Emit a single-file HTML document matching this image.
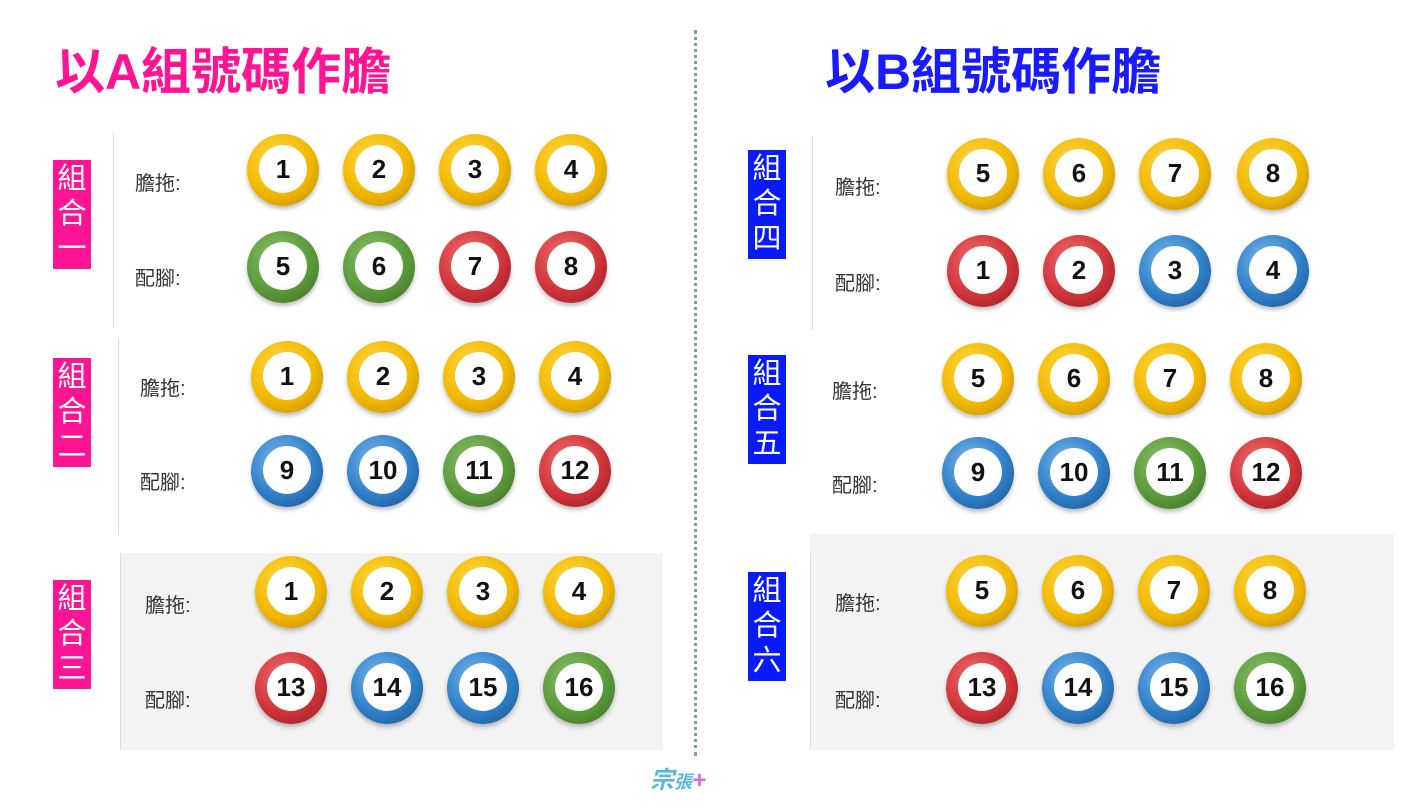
<!DOCTYPE html>
<html><head><meta charset="utf-8"><style>
body{margin:0;width:1425px;height:808px;background:#fff;position:relative;overflow:hidden;font-family:"Liberation Sans","Noto Sans CJK TC",sans-serif}
.abs{position:absolute}
.title{position:absolute;font-weight:bold;font-size:50px;top:32px;letter-spacing:0px;font-family:"Liberation Sans","Noto Sans CJK TC",sans-serif}
.tag{position:absolute;width:38px;color:#fff;font-size:29px;line-height:35px;text-align:center;padding:2px 0}
.lbl{position:absolute;font-size:20px;color:#333}
.ball{position:absolute;width:72px;height:72px;border-radius:50%;margin:-36px 0 0 -36px;box-shadow:0 3px 4px rgba(0,0,0,.25)}
.ball i{position:absolute;left:12px;top:11px;width:48px;height:48px;border-radius:50%;background:radial-gradient(circle at 45% 40%,#fff 60%,#e6e6e6);font-style:normal;font-weight:bold;font-size:26px;line-height:48px;text-align:center;color:#111}
.y{background:radial-gradient(circle at 40% 35%,#ffd84a,#f1b800 55%,#b8860b 100%)}
.g{background:radial-gradient(circle at 40% 35%,#8cc06a,#5a9a3a 55%,#3a6a22 100%)}
.r{background:radial-gradient(circle at 40% 35%,#f07070,#d0343a 55%,#8f1c20 100%)}
.b{background:radial-gradient(circle at 40% 35%,#7ab8ec,#2f7fc8 55%,#1b4f88 100%)}
.vl{position:absolute;width:1px;background:#ddd}
</style></head><body>
<div class="abs" style="left:120px;top:553px;width:543px;height:197px;background:#f3f3f3"></div>
<div class="abs" style="left:810px;top:534px;width:584px;height:216px;background:#f3f3f3"></div>
<div class="vl" style="left:113px;top:133px;height:195px"></div>
<div class="vl" style="left:118px;top:338px;height:197px"></div>
<div class="vl" style="left:120px;top:553px;height:197px"></div>
<div class="vl" style="left:812px;top:137px;height:193px"></div>
<div class="vl" style="left:810px;top:553px;height:197px"></div>
<div class="abs" style="left:694px;top:30px;height:726px;border-left:3px dotted #8898a8"></div>
<div class="title" style="left:55px;color:#ff1493">以A組號碼作膽</div>
<div class="title" style="left:825px;color:#1a1aff">以B組號碼作膽</div>
<div class="tag" style="left:53px;top:160px;background:#ff1493">組<br>合<br>一</div>
<div class="tag" style="left:53px;top:358px;background:#ff1493">組<br>合<br>二</div>
<div class="tag" style="left:53px;top:580px;background:#ff1493">組<br>合<br>三</div>
<div class="tag" style="left:748px;top:150px;background:#0a1aff">組<br>合<br>四</div>
<div class="tag" style="left:748px;top:355px;background:#0a1aff">組<br>合<br>五</div>
<div class="tag" style="left:748px;top:572px;background:#0a1aff">組<br>合<br>六</div>
<div class="lbl" style="left:135px;top:167px">膽拖:</div><div class="lbl" style="left:135px;top:262px">配腳:</div>
<div class="lbl" style="left:140px;top:372px">膽拖:</div><div class="lbl" style="left:140px;top:466px">配腳:</div>
<div class="lbl" style="left:145px;top:589px">膽拖:</div><div class="lbl" style="left:145px;top:684px">配腳:</div>
<div class="lbl" style="left:835px;top:171px">膽拖:</div><div class="lbl" style="left:835px;top:267px">配腳:</div>
<div class="lbl" style="left:832px;top:375px">膽拖:</div><div class="lbl" style="left:832px;top:469px">配腳:</div>
<div class="lbl" style="left:835px;top:587px">膽拖:</div><div class="lbl" style="left:835px;top:684px">配腳:</div>

<div class="ball y" style="left:283px;top:170px"><i>1</i></div><div class="ball y" style="left:379px;top:170px"><i>2</i></div><div class="ball y" style="left:475px;top:170px"><i>3</i></div><div class="ball y" style="left:571px;top:170px"><i>4</i></div>
<div class="ball g" style="left:283px;top:267px"><i>5</i></div><div class="ball g" style="left:379px;top:267px"><i>6</i></div><div class="ball r" style="left:475px;top:267px"><i>7</i></div><div class="ball r" style="left:571px;top:267px"><i>8</i></div>

<div class="ball y" style="left:287px;top:377px"><i>1</i></div><div class="ball y" style="left:383px;top:377px"><i>2</i></div><div class="ball y" style="left:479px;top:377px"><i>3</i></div><div class="ball y" style="left:575px;top:377px"><i>4</i></div>
<div class="ball b" style="left:287px;top:471px"><i>9</i></div><div class="ball b" style="left:383px;top:471px"><i>10</i></div><div class="ball g" style="left:479px;top:471px"><i>11</i></div><div class="ball r" style="left:575px;top:471px"><i>12</i></div>

<div class="ball y" style="left:291px;top:592px"><i>1</i></div><div class="ball y" style="left:387px;top:592px"><i>2</i></div><div class="ball y" style="left:483px;top:592px"><i>3</i></div><div class="ball y" style="left:579px;top:592px"><i>4</i></div>
<div class="ball r" style="left:291px;top:688px"><i>13</i></div><div class="ball b" style="left:387px;top:688px"><i>14</i></div><div class="ball b" style="left:483px;top:688px"><i>15</i></div><div class="ball g" style="left:579px;top:688px"><i>16</i></div>

<div class="ball y" style="left:983px;top:174px"><i>5</i></div><div class="ball y" style="left:1079px;top:174px"><i>6</i></div><div class="ball y" style="left:1175px;top:174px"><i>7</i></div><div class="ball y" style="left:1273px;top:174px"><i>8</i></div>
<div class="ball r" style="left:983px;top:271px"><i>1</i></div><div class="ball r" style="left:1079px;top:271px"><i>2</i></div><div class="ball b" style="left:1175px;top:271px"><i>3</i></div><div class="ball b" style="left:1273px;top:271px"><i>4</i></div>

<div class="ball y" style="left:978px;top:379px"><i>5</i></div><div class="ball y" style="left:1074px;top:379px"><i>6</i></div><div class="ball y" style="left:1170px;top:379px"><i>7</i></div><div class="ball y" style="left:1266px;top:379px"><i>8</i></div>
<div class="ball b" style="left:978px;top:473px"><i>9</i></div><div class="ball b" style="left:1074px;top:473px"><i>10</i></div><div class="ball g" style="left:1170px;top:473px"><i>11</i></div><div class="ball r" style="left:1266px;top:473px"><i>12</i></div>

<div class="ball y" style="left:982px;top:591px"><i>5</i></div><div class="ball y" style="left:1078px;top:591px"><i>6</i></div><div class="ball y" style="left:1174px;top:591px"><i>7</i></div><div class="ball y" style="left:1270px;top:591px"><i>8</i></div>
<div class="ball r" style="left:982px;top:688px"><i>13</i></div><div class="ball b" style="left:1078px;top:688px"><i>14</i></div><div class="ball b" style="left:1174px;top:688px"><i>15</i></div><div class="ball g" style="left:1270px;top:688px"><i>16</i></div>

<div class="abs" style="left:650px;top:760px;font-size:24px;font-weight:bold;font-style:italic;color:#5ab8d8">宗<span style="font-size:18px">張</span><span style="color:#d070d0">+</span></div>
</body></html>
